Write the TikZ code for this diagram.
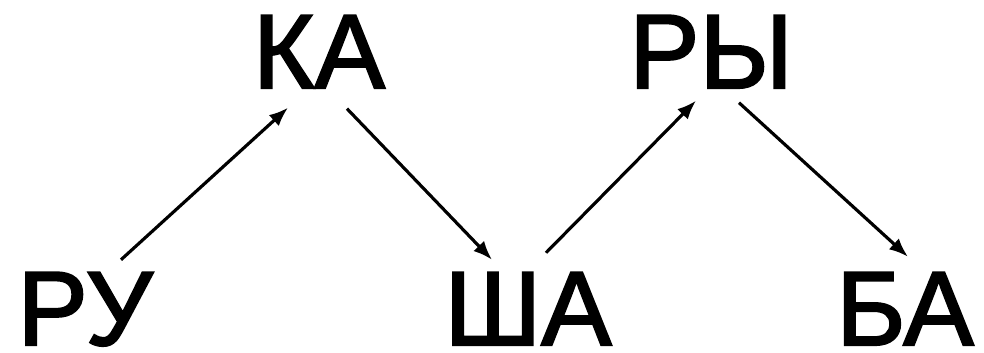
\documentclass[tikz,border=0pt]{standalone}
\usepackage{fontspec}
\newfontfamily\sylfont{Liberation Sans}
\usetikzlibrary{arrows.meta}

% slightly heavier strokes for the syllables
\newcommand\heavytext[1]{\special{pdf:literal 2 Tr 0.6 w}#1\special{pdf:literal 0 Tr}}

\tikzset{
  syl/.style={inner sep=0pt, anchor=base, font=\sylfont\fontsize{30}{36}\selectfont},
  link/.style={line width=0.9pt, -{Latex[length=5.4pt,width=4.2pt]}}
}

\begin{document}
\begin{tikzpicture}
  \useasboundingbox (0,0) rectangle (9.84,3.52);

  % syllables
  \node[syl] (ru) at (0.85,0.07) {\heavytext{РУ}};
  \node[syl] (ka) at (3.19,2.64) {\heavytext{КА}};
  \node[syl] (sha) at (5.28,0.07) {\heavytext{ША}};
  \node[syl] (ry) at (7.11,2.64) {\heavytext{РЫ}};
  \node[syl] (ba) at (9.05,0.07) {\heavytext{БА}};

  % links
  \draw[link] ([xshift=3.6mm,yshift=1.2mm]ru.north) -- ([xshift=-3.1mm,yshift=-1.9mm]ka.south);
  \draw[link] ([xshift=2.8mm,yshift=-2.0mm]ka.south) -- ([xshift=-3.6mm,yshift=1.2mm]sha.north);
  \draw[link] ([xshift=1.8mm,yshift=1.9mm]sha.north) -- ([xshift=-1.5mm,yshift=-1.2mm]ry.south);
  \draw[link] ([xshift=2.8mm,yshift=-1.4mm]ry.south) -- ([xshift=0.3mm,yshift=1.5mm]ba.north);
\end{tikzpicture}
\end{document}
